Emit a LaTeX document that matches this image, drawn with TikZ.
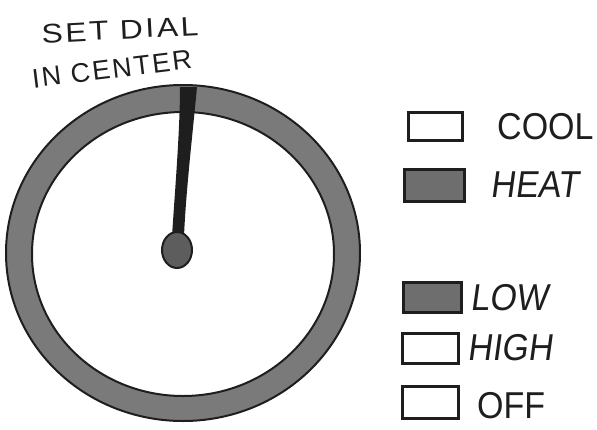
\documentclass[tikz,border=0pt]{standalone}
\usepackage{fontspec}
\usetikzlibrary{shapes.geometric}
\setmainfont{Liberation Sans}
\newfontfamily\handup{Liberation Sans}
\newfontfamily\handsp[LetterSpace=8]{Liberation Sans}
\newfontfamily\handsl[FakeSlant=0.15]{Liberation Sans}
\definecolor{ringgray}{HTML}{7A7A7A}
\definecolor{ink}{HTML}{1E1E1E}
\definecolor{boxgray}{HTML}{6E6E6E}
\begin{document}
\begin{tikzpicture}[x=1pt,y=-1pt,
  swatch/.style={draw=ink,line width=3pt,minimum width=54pt,minimum height=28pt,inner sep=0pt},
  filledswatch/.style={swatch,fill=boxgray},
  label/.style={font=\fontsize{34}{34}\selectfont\handup,text=ink,anchor=west,inner sep=0pt,yscale=1.1},
  slabel/.style={font=\fontsize{34}{34}\selectfont\handsl,text=ink,anchor=west,inner sep=0pt,yscale=1.1},
  title/.style={font=\fontsize{27}{27}\selectfont\handsp,text=ink,inner sep=0pt}]
\useasboundingbox (0,0) rectangle (597,429);
% ring
\fill[ringgray,even odd rule] (183,253) ellipse [x radius=177, y radius=168]
  (183,254) ellipse [x radius=151, y radius=142];
\draw[ink,line width=2pt] (183,253) ellipse [x radius=177, y radius=168];
\draw[ink,line width=2pt] (183,254) ellipse [x radius=151, y radius=142];
% needle
\fill[ink] (180,87) -- (197,87) .. controls (193,130) and (186,190) .. (184,236)
  -- (172,236) .. controls (175,190) and (180,130) .. (180,87) -- cycle;
\node[draw=ink,line width=2pt,fill=boxgray!85!black,ellipse,minimum width=30pt,minimum height=36pt,inner sep=0pt] (knob) at (177,250) {};
% title
\node[title,rotate=3,xscale=1.18] (t1) at (120,30) {SET DIAL};
\node[title,rotate=7] (t2) at (112,69) {IN CENTER};
% legend
\node[swatch] (cool) at (435,126) {};
\node[label] (lcool) at (497,127) {COOL};
\node[filledswatch,minimum width=60pt,minimum height=32pt] (heat) at (434,185) {};
\node[slabel] (lheat) at (490,185) {HEAT};
\node[filledswatch,minimum width=58pt,minimum height=30pt] (low) at (432,297) {};
\node[slabel] (llow) at (470,298) {LOW};
\node[swatch,minimum width=56pt,minimum height=30pt] (high) at (430,348) {};
\node[slabel] (lhigh) at (467,348) {HIGH};
\node[swatch,minimum width=56pt,minimum height=32pt] (off) at (430,402) {};
\node[label] (loff) at (477,406) {OFF};
\end{tikzpicture}
\end{document}
